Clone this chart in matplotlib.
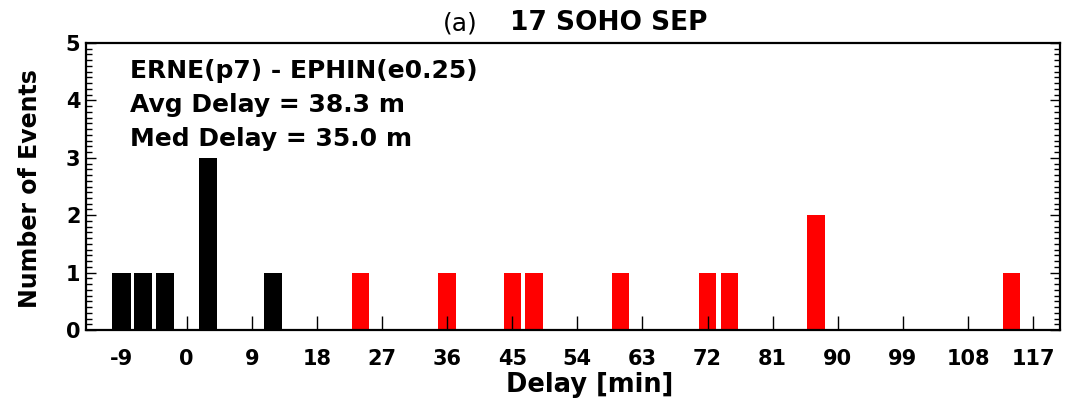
import matplotlib
matplotlib.use("Agg")
import matplotlib.pyplot as plt
from matplotlib.ticker import MultipleLocator

# delay bins (minutes) and event counts
black_delays = [-9, -6, -3, 3, 12]
black_counts = [1, 1, 1, 3, 1]
red_delays = [24, 36, 45, 48, 60, 72, 75, 87, 114]
red_counts = [1, 1, 1, 1, 1, 1, 1, 2, 1]
x_ticks = [-9, 0, 9, 18, 27, 36, 45, 54, 63, 72, 81, 90, 99, 108, 117]
y_ticks = [0, 1, 2, 3, 4, 5]
info_lines = ["ERNE(p7) - EPHIN(e0.25)", "Avg Delay = 38.3 m", "Med Delay = 35.0 m"]

plt.rcParams['font.family'] = ['DejaVu Sans']
plt.rcParams['font.weight'] = 'bold'
plt.rcParams['axes.unicode_minus'] = False

fig = plt.figure(figsize=(10.72, 4.04), dpi=100)
ax = fig.add_axes([86 / 1072, 74 / 404, 974 / 1072, 287 / 404])

ax.bar(black_delays, black_counts, width=2.5, color="black", linewidth=0)
ax.bar(red_delays, red_counts, width=2.4, color="red", linewidth=0)

ax.set_xlim(-13.9, 120.7)
ax.set_ylim(0, 5)
ax.set_xticks(x_ticks)
ax.set_yticks(y_ticks)
ax.yaxis.set_minor_locator(MultipleLocator(0.1))

ax.tick_params(axis='x', direction='in', length=10, width=1, pad=14, labelsize=15, top=False)
ax.tick_params(axis='y', which='major', direction='in', length=7, width=1, pad=4, labelsize=15, left=True, right=True)
ax.tick_params(axis='y', which='minor', direction='in', length=4, width=1, left=True, right=True)
for s in ax.spines.values():
    s.set_linewidth(1.6)

ax.set_xlabel("Delay [min]", fontsize=18.5, fontweight='bold', va='baseline')
ax.xaxis.set_label_coords(0.5175, -0.216)
ax.set_ylabel("Number of Events", fontsize=17, fontweight='bold', va='baseline')
ax.yaxis.set_label_coords(-0.0503, 0.493)

# title: "(a)" in normal weight, rest bold
fig.text(443 / 1072, (404 - 30) / 404, "(a)", fontsize=18, fontweight='normal', va='baseline', ha='left')
fig.text(510 / 1072, (404 - 30) / 404, "17 SOHO SEP", fontsize=19, fontweight='bold', va='baseline', ha='left')

baselines = [0.878, 0.7596, 0.641]
for line, yb in zip(info_lines, baselines):
    ax.text(0.045, yb, line, transform=ax.transAxes,
            fontsize=18, fontweight='bold', va='baseline', ha='left')

plt.savefig("out.png", dpi=100)
